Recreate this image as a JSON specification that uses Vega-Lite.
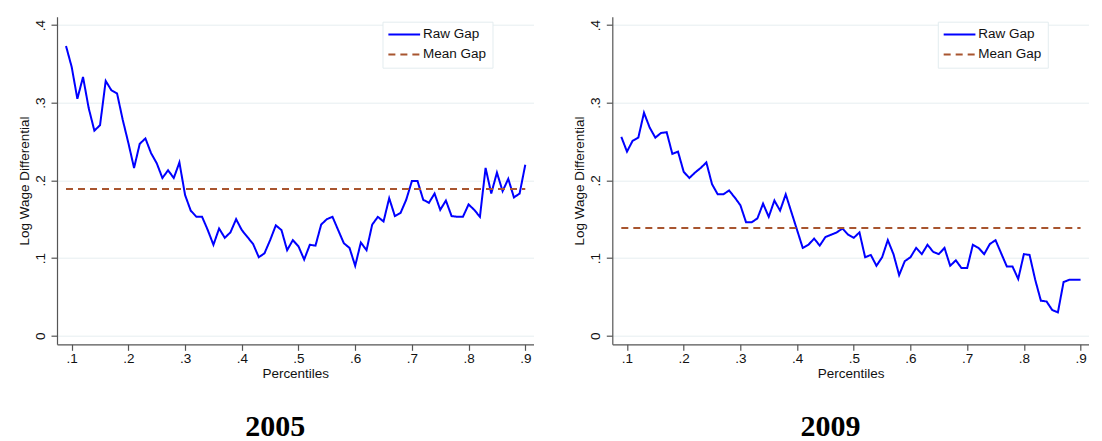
{
  "$schema": "https://vega.github.io/schema/vega-lite/v6.json",
  "background": "white",
  "padding": {"left": 17, "top": 16.7, "right": 0, "bottom": 0},
  "bounds": "flush",
  "spacing": 78.3,
  "datasets": {
    "d2005": [
      {"p":0.09,"v":0.373,"s":"Raw Gap"},{"p":0.10,"v":0.346,"s":"Raw Gap"},{"p":0.11,"v":0.305,"s":"Raw Gap"},{"p":0.12,"v":0.333,"s":"Raw Gap"},{"p":0.13,"v":0.293,"s":"Raw Gap"},{"p":0.14,"v":0.264,"s":"Raw Gap"},{"p":0.15,"v":0.271,"s":"Raw Gap"},{"p":0.16,"v":0.328,"s":"Raw Gap"},{"p":0.17,"v":0.316,"s":"Raw Gap"},{"p":0.18,"v":0.312,"s":"Raw Gap"},
      {"p":0.19,"v":0.278,"s":"Raw Gap"},{"p":0.20,"v":0.248,"s":"Raw Gap"},{"p":0.21,"v":0.216,"s":"Raw Gap"},{"p":0.22,"v":0.247,"s":"Raw Gap"},{"p":0.23,"v":0.254,"s":"Raw Gap"},{"p":0.24,"v":0.235,"s":"Raw Gap"},{"p":0.25,"v":0.222,"s":"Raw Gap"},{"p":0.26,"v":0.203,"s":"Raw Gap"},{"p":0.27,"v":0.213,"s":"Raw Gap"},{"p":0.28,"v":0.203,"s":"Raw Gap"},
      {"p":0.29,"v":0.223,"s":"Raw Gap"},{"p":0.30,"v":0.181,"s":"Raw Gap"},{"p":0.31,"v":0.161,"s":"Raw Gap"},{"p":0.32,"v":0.153,"s":"Raw Gap"},{"p":0.33,"v":0.153,"s":"Raw Gap"},{"p":0.34,"v":0.136,"s":"Raw Gap"},{"p":0.35,"v":0.117,"s":"Raw Gap"},{"p":0.36,"v":0.138,"s":"Raw Gap"},{"p":0.37,"v":0.126,"s":"Raw Gap"},{"p":0.38,"v":0.133,"s":"Raw Gap"},
      {"p":0.39,"v":0.150,"s":"Raw Gap"},{"p":0.40,"v":0.136,"s":"Raw Gap"},{"p":0.41,"v":0.127,"s":"Raw Gap"},{"p":0.42,"v":0.118,"s":"Raw Gap"},{"p":0.43,"v":0.101,"s":"Raw Gap"},{"p":0.44,"v":0.106,"s":"Raw Gap"},{"p":0.45,"v":0.123,"s":"Raw Gap"},{"p":0.46,"v":0.142,"s":"Raw Gap"},{"p":0.47,"v":0.136,"s":"Raw Gap"},{"p":0.48,"v":0.110,"s":"Raw Gap"},
      {"p":0.49,"v":0.123,"s":"Raw Gap"},{"p":0.50,"v":0.115,"s":"Raw Gap"},{"p":0.51,"v":0.098,"s":"Raw Gap"},{"p":0.52,"v":0.117,"s":"Raw Gap"},{"p":0.53,"v":0.116,"s":"Raw Gap"},{"p":0.54,"v":0.143,"s":"Raw Gap"},{"p":0.55,"v":0.150,"s":"Raw Gap"},{"p":0.56,"v":0.153,"s":"Raw Gap"},{"p":0.57,"v":0.136,"s":"Raw Gap"},{"p":0.58,"v":0.119,"s":"Raw Gap"},
      {"p":0.59,"v":0.113,"s":"Raw Gap"},{"p":0.60,"v":0.090,"s":"Raw Gap"},{"p":0.61,"v":0.120,"s":"Raw Gap"},{"p":0.62,"v":0.110,"s":"Raw Gap"},{"p":0.63,"v":0.143,"s":"Raw Gap"},{"p":0.64,"v":0.153,"s":"Raw Gap"},{"p":0.65,"v":0.147,"s":"Raw Gap"},{"p":0.66,"v":0.177,"s":"Raw Gap"},{"p":0.67,"v":0.154,"s":"Raw Gap"},{"p":0.68,"v":0.158,"s":"Raw Gap"},
      {"p":0.69,"v":0.175,"s":"Raw Gap"},{"p":0.70,"v":0.199,"s":"Raw Gap"},{"p":0.71,"v":0.199,"s":"Raw Gap"},{"p":0.72,"v":0.175,"s":"Raw Gap"},{"p":0.73,"v":0.171,"s":"Raw Gap"},{"p":0.74,"v":0.183,"s":"Raw Gap"},{"p":0.75,"v":0.162,"s":"Raw Gap"},{"p":0.76,"v":0.174,"s":"Raw Gap"},{"p":0.77,"v":0.154,"s":"Raw Gap"},{"p":0.78,"v":0.153,"s":"Raw Gap"},
      {"p":0.79,"v":0.153,"s":"Raw Gap"},{"p":0.80,"v":0.169,"s":"Raw Gap"},{"p":0.81,"v":0.162,"s":"Raw Gap"},{"p":0.82,"v":0.153,"s":"Raw Gap"},{"p":0.83,"v":0.216,"s":"Raw Gap"},{"p":0.84,"v":0.183,"s":"Raw Gap"},{"p":0.85,"v":0.210,"s":"Raw Gap"},{"p":0.86,"v":0.186,"s":"Raw Gap"},{"p":0.87,"v":0.202,"s":"Raw Gap"},{"p":0.88,"v":0.178,"s":"Raw Gap"},
      {"p":0.89,"v":0.183,"s":"Raw Gap"},{"p":0.90,"v":0.220,"s":"Raw Gap"},
      {"p":0.09,"v":0.1887,"s":"Mean Gap"},{"p":0.90,"v":0.1887,"s":"Mean Gap"}
    ],
    "d2009": [
      {"p":0.09,"v":0.256,"s":"Raw Gap"},{"p":0.10,"v":0.237,"s":"Raw Gap"},{"p":0.11,"v":0.251,"s":"Raw Gap"},{"p":0.12,"v":0.255,"s":"Raw Gap"},{"p":0.13,"v":0.287,"s":"Raw Gap"},{"p":0.14,"v":0.268,"s":"Raw Gap"},{"p":0.15,"v":0.255,"s":"Raw Gap"},{"p":0.16,"v":0.261,"s":"Raw Gap"},{"p":0.17,"v":0.262,"s":"Raw Gap"},{"p":0.18,"v":0.234,"s":"Raw Gap"},
      {"p":0.19,"v":0.237,"s":"Raw Gap"},{"p":0.20,"v":0.211,"s":"Raw Gap"},{"p":0.21,"v":0.203,"s":"Raw Gap"},{"p":0.22,"v":0.210,"s":"Raw Gap"},{"p":0.23,"v":0.216,"s":"Raw Gap"},{"p":0.24,"v":0.223,"s":"Raw Gap"},{"p":0.25,"v":0.195,"s":"Raw Gap"},{"p":0.26,"v":0.182,"s":"Raw Gap"},{"p":0.27,"v":0.182,"s":"Raw Gap"},{"p":0.28,"v":0.187,"s":"Raw Gap"},
      {"p":0.29,"v":0.178,"s":"Raw Gap"},{"p":0.30,"v":0.168,"s":"Raw Gap"},{"p":0.31,"v":0.146,"s":"Raw Gap"},{"p":0.32,"v":0.146,"s":"Raw Gap"},{"p":0.33,"v":0.151,"s":"Raw Gap"},{"p":0.34,"v":0.170,"s":"Raw Gap"},{"p":0.35,"v":0.153,"s":"Raw Gap"},{"p":0.36,"v":0.174,"s":"Raw Gap"},{"p":0.37,"v":0.161,"s":"Raw Gap"},{"p":0.38,"v":0.182,"s":"Raw Gap"},
      {"p":0.39,"v":0.159,"s":"Raw Gap"},{"p":0.40,"v":0.136,"s":"Raw Gap"},{"p":0.41,"v":0.113,"s":"Raw Gap"},{"p":0.42,"v":0.117,"s":"Raw Gap"},{"p":0.43,"v":0.125,"s":"Raw Gap"},{"p":0.44,"v":0.116,"s":"Raw Gap"},{"p":0.45,"v":0.127,"s":"Raw Gap"},{"p":0.46,"v":0.130,"s":"Raw Gap"},{"p":0.47,"v":0.133,"s":"Raw Gap"},{"p":0.48,"v":0.138,"s":"Raw Gap"},
      {"p":0.49,"v":0.130,"s":"Raw Gap"},{"p":0.50,"v":0.126,"s":"Raw Gap"},{"p":0.51,"v":0.133,"s":"Raw Gap"},{"p":0.52,"v":0.101,"s":"Raw Gap"},{"p":0.53,"v":0.104,"s":"Raw Gap"},{"p":0.54,"v":0.090,"s":"Raw Gap"},{"p":0.55,"v":0.101,"s":"Raw Gap"},{"p":0.56,"v":0.123,"s":"Raw Gap"},{"p":0.57,"v":0.105,"s":"Raw Gap"},{"p":0.58,"v":0.078,"s":"Raw Gap"},
      {"p":0.59,"v":0.096,"s":"Raw Gap"},{"p":0.60,"v":0.101,"s":"Raw Gap"},{"p":0.61,"v":0.113,"s":"Raw Gap"},{"p":0.62,"v":0.105,"s":"Raw Gap"},{"p":0.63,"v":0.117,"s":"Raw Gap"},{"p":0.64,"v":0.108,"s":"Raw Gap"},{"p":0.65,"v":0.105,"s":"Raw Gap"},{"p":0.66,"v":0.113,"s":"Raw Gap"},{"p":0.67,"v":0.090,"s":"Raw Gap"},{"p":0.68,"v":0.097,"s":"Raw Gap"},
      {"p":0.69,"v":0.087,"s":"Raw Gap"},{"p":0.70,"v":0.087,"s":"Raw Gap"},{"p":0.71,"v":0.117,"s":"Raw Gap"},{"p":0.72,"v":0.113,"s":"Raw Gap"},{"p":0.73,"v":0.105,"s":"Raw Gap"},{"p":0.74,"v":0.118,"s":"Raw Gap"},{"p":0.75,"v":0.123,"s":"Raw Gap"},{"p":0.76,"v":0.106,"s":"Raw Gap"},{"p":0.77,"v":0.089,"s":"Raw Gap"},{"p":0.78,"v":0.089,"s":"Raw Gap"},
      {"p":0.79,"v":0.073,"s":"Raw Gap"},{"p":0.80,"v":0.105,"s":"Raw Gap"},{"p":0.81,"v":0.104,"s":"Raw Gap"},{"p":0.82,"v":0.072,"s":"Raw Gap"},{"p":0.83,"v":0.045,"s":"Raw Gap"},{"p":0.84,"v":0.044,"s":"Raw Gap"},{"p":0.85,"v":0.033,"s":"Raw Gap"},{"p":0.86,"v":0.030,"s":"Raw Gap"},{"p":0.87,"v":0.069,"s":"Raw Gap"},{"p":0.88,"v":0.072,"s":"Raw Gap"},
      {"p":0.89,"v":0.072,"s":"Raw Gap"},{"p":0.90,"v":0.072,"s":"Raw Gap"},
      {"p":0.09,"v":0.1385,"s":"Mean Gap"},{"p":0.90,"v":0.1385,"s":"Mean Gap"}
    ]
  },
  "resolve": {
    "scale": {"color": "independent", "strokeDash": "independent", "x": "independent", "y": "independent"},
    "legend": {"color": "independent", "strokeDash": "independent"}
  },
  "hconcat": [
    {
      "width": 476.5,
      "height": 327.6,
      "title": {"text": "2005"},
      "data": {"name": "d2005"},
      "mark": {"type": "line", "strokeWidth": 2, "clip": true},
      "encoding": {
        "x": {"field": "p", "type": "quantitative", "scale": {"domain": [0.0741, 0.9145], "nice": false, "zero": false},
              "axis": {"title": "Percentiles", "values": [0.1,0.2,0.3,0.4,0.5,0.6,0.7,0.8,0.9], "labelExpr": "'.' + round(datum.value*10)", "grid": false}},
        "y": {"field": "v", "type": "quantitative", "scale": {"domain": [-0.0111, 0.4107], "nice": false, "zero": false},
              "axis": {"title": "Log Wage Differential", "values": [0,0.1,0.2,0.3,0.4], "labelExpr": "datum.value == 0 ? '0' : '.' + round(datum.value*10)", "grid": true, "labelAngle": -90, "labelAlign": "center", "labelBaseline": "bottom", "labelPadding": 4, "titlePadding": 2}},
        "color": {"field": "s", "type": "nominal", "scale": {"domain": ["Raw Gap", "Mean Gap"], "range": ["#0000ff", "#a8552f"]}, "legend": {"title": null}},
        "strokeDash": {"field": "s", "type": "nominal", "scale": {"domain": ["Raw Gap", "Mean Gap"], "range": [[1, 0], [7, 5]]}, "legend": {"title": null}}
      }
    },
    {
      "width": 476.5,
      "height": 327.6,
      "title": {"text": "2009"},
      "data": {"name": "d2009"},
      "mark": {"type": "line", "strokeWidth": 2, "clip": true},
      "encoding": {
        "x": {"field": "p", "type": "quantitative", "scale": {"domain": [0.0741, 0.9145], "nice": false, "zero": false},
              "axis": {"title": "Percentiles", "values": [0.1,0.2,0.3,0.4,0.5,0.6,0.7,0.8,0.9], "labelExpr": "'.' + round(datum.value*10)", "grid": false}},
        "y": {"field": "v", "type": "quantitative", "scale": {"domain": [-0.0111, 0.4107], "nice": false, "zero": false},
              "axis": {"title": "Log Wage Differential", "values": [0,0.1,0.2,0.3,0.4], "labelExpr": "datum.value == 0 ? '0' : '.' + round(datum.value*10)", "grid": true, "labelAngle": -90, "labelAlign": "center", "labelBaseline": "bottom", "labelPadding": 4, "titlePadding": 2}},
        "color": {"field": "s", "type": "nominal", "scale": {"domain": ["Raw Gap", "Mean Gap"], "range": ["#0000ff", "#a8552f"]}, "legend": {"title": null}},
        "strokeDash": {"field": "s", "type": "nominal", "scale": {"domain": ["Raw Gap", "Mean Gap"], "range": [[1, 0], [7, 5]]}, "legend": {"title": null}}
      }
    }
  ],
  "config": {
    "view": {"stroke": null},
    "font": "Liberation Sans",
    "axis": {
      "domainColor": "#555555", "domainWidth": 1.2, "tickColor": "#555555", "tickSize": 6, "tickWidth": 1.2,
      "labelFont": "Liberation Sans", "labelFontSize": 13.5, "labelColor": "#111111",
      "titleFont": "Liberation Sans", "titleFontSize": 13.5, "titleFontWeight": "normal", "titleColor": "#111111",
      "gridColor": "#e6eef0", "gridWidth": 1
    },
    "axisX": {"labelPadding": 1, "titlePadding": 2},
    "legend": {
      "orient": "none", "legendX": 325.5, "legendY": 5,
      "symbolType": "M-3,0H3", "symbolSize": 112, "symbolStrokeWidth": 2, "symbolOffset": 9,
      "labelFont": "Liberation Sans", "labelFontSize": 13.5, "labelColor": "#111111", "labelOffset": 12,
      "padding": 6, "rowPadding": 5, "strokeColor": "#e3ecef", "fillColor": "white"
    },
    "title": {
      "orient": "bottom", "frame": "bounds", "anchor": "middle",
      "font": "Liberation Serif", "fontSize": 30, "fontWeight": "bold", "color": "#000000", "offset": 32
    }
  }
}
